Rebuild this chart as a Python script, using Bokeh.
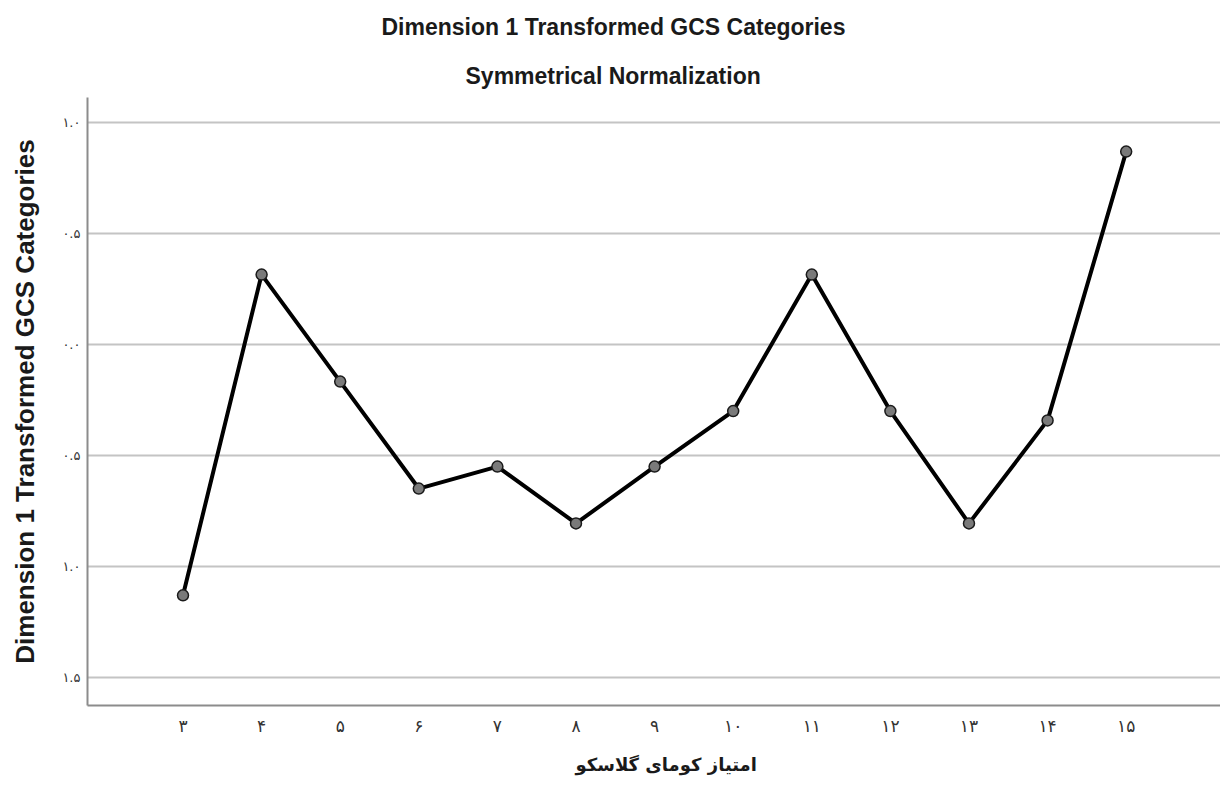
from bokeh.plotting import figure
from bokeh.models import FixedTicker, Range1d, Title, ColumnDataSource
from bokeh.embed import file_html
from bokeh.resources import INLINE

# Data
gcs = [3, 4, 5, 6, 7, 8, 9, 10, 11, 12, 13, 14, 15]
x_labels = ["۳", "۴", "۵", "۶", "۷", "۸", "۹", "۱۰", "۱۱", "۱۲", "۱۳", "۱۴", "۱۵"]
dim1 = [-1.13, 0.315, -0.167, -0.649, -0.55, -0.806, -0.55, -0.30, 0.315, -0.30, -0.806, -0.342, 0.869]
y_ticks = [-1.5, -1.0, -0.5, 0.0, 0.5, 1.0]
y_labels = ["۱.۵", "۱.۰", "۰.۵", "۰.۰", "۰.۵", "۱.۰"]

title_main = "Dimension 1 Transformed GCS Categories"
title_sub = "Symmetrical Normalization"
x_title = "امتیاز کومای گلاسکو"
y_title = "Dimension 1 Transformed GCS Categories"

src = ColumnDataSource(dict(x=gcs, y=dim1))

p = figure(width=1220, height=787, output_backend="svg", toolbar_location=None,
           x_range=Range1d(1.785, 16.2), y_range=Range1d(-1.6264, 1.1128),
           min_border_left=87, min_border_right=0, min_border_top=95, min_border_bottom=71)
p.title = None
p.add_layout(Title(text=title_sub, align="left", offset=378, text_font="Liberation Sans",
                   text_font_size="23px", text_font_style="bold", text_color="#1a1a1a",
                   standoff=18), "above")
p.add_layout(Title(text=title_main, align="left", offset=294, text_font="Liberation Sans",
                   text_font_size="23px", text_font_style="bold", text_color="#1a1a1a",
                   standoff=23), "above")

p.outline_line_color = None
p.background_fill_color = "white"
p.border_fill_color = "white"

p.xgrid.visible = False
p.ygrid.ticker = FixedTicker(ticks=y_ticks)
p.ygrid.grid_line_color = "#c4c4c4"
p.ygrid.grid_line_width = 2

p.xaxis.ticker = FixedTicker(ticks=gcs)
p.xaxis.major_label_overrides = {g: l for g, l in zip(gcs, x_labels)}
p.yaxis.ticker = FixedTicker(ticks=y_ticks)
p.yaxis.major_label_overrides = {t: l for t, l in zip(y_ticks, y_labels)}

for ax in (p.xaxis, p.yaxis):
    ax.axis_line_color = "#8c8c8c"
    ax.axis_line_width = 2
    ax.major_tick_line_color = None
    ax.minor_tick_line_color = None
    ax.major_label_text_font = "DejaVu Sans"
    ax.major_label_text_color = "#333333"

p.xaxis.major_label_text_font_size = "17px"
p.xaxis.major_label_standoff = 4
p.yaxis.major_label_text_font_size = "13px"
p.yaxis.major_label_standoff = 1

p.add_layout(Title(text=x_title, align="left", offset=488, text_font="DejaVu Sans",
                   text_font_size="18px", text_font_style="bold", text_color="#1a1a1a",
                   standoff=26), "below")

p.yaxis.axis_label = y_title
p.yaxis.axis_label_text_font = "Liberation Sans"
p.yaxis.axis_label_text_font_size = "26px"
p.yaxis.axis_label_text_font_style = "bold"
p.yaxis.axis_label_text_color = "#1a1a1a"
p.yaxis.axis_label_standoff = 19

p.line("x", "y", source=src, line_color="black", line_width=4)
p.scatter("x", "y", source=src, size=11, fill_color="#7a7a7a", line_color="#1a1a1a", line_width=1.5)

open("out.html", "w").write(file_html(p, INLINE))
